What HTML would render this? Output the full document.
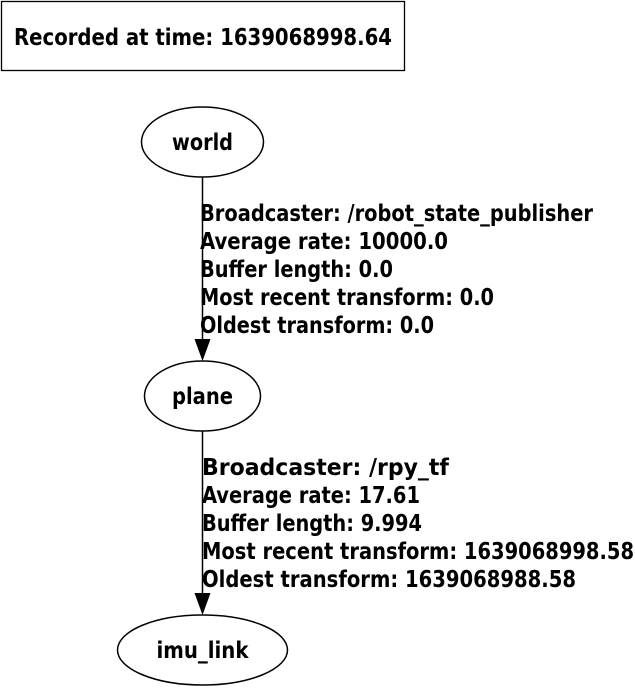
<!DOCTYPE html>
<html><head><meta charset="utf-8"><style>
html,body{margin:0;padding:0;background:#fff;}
svg text{font-family:"DejaVu Sans Condensed","DejaVu Sans","Liberation Sans",sans-serif;font-weight:bold;font-size:23px;fill:#000;}
</style></head><body>
<svg width="635" height="686" viewBox="0 0 635 686" xmlns="http://www.w3.org/2000/svg">
<g>
<rect x="1.5" y="1.5" width="403" height="69" fill="#fff" stroke="#000" stroke-width="1.3"/>
<text x="203" y="45" text-anchor="middle" textLength="378" lengthAdjust="spacingAndGlyphs">Recorded at time: 1639068998.64</text>
</g>
<g>
<line x1="202.5" y1="177" x2="202.5" y2="340" stroke="#000" stroke-width="1.5"/>
<polygon points="194.5,339 210.5,339 202.5,361" fill="#000"/>
<g>
<text x="200" y="221" textLength="393" lengthAdjust="spacingAndGlyphs">Broadcaster: /robot_state_publisher</text>
<text x="200" y="249" textLength="248" lengthAdjust="spacingAndGlyphs">Average rate: 10000.0</text>
<text x="200" y="277" textLength="193" lengthAdjust="spacingAndGlyphs">Buffer length: 0.0</text>
<text x="200" y="305" textLength="294" lengthAdjust="spacingAndGlyphs">Most recent transform: 0.0</text>
<text x="200" y="333" textLength="234" lengthAdjust="spacingAndGlyphs">Oldest transform: 0.0</text>
</g>
</g>
<g>
<line x1="202.5" y1="431" x2="202.5" y2="594" stroke="#000" stroke-width="1.5"/>
<polygon points="194.5,593 210.5,593 202.5,615" fill="#000"/>
<g>
<text x="202" y="475" textLength="247" lengthAdjust="spacingAndGlyphs">Broadcaster: /rpy_tf</text>
<text x="202" y="503" textLength="218" lengthAdjust="spacingAndGlyphs">Average rate: 17.61</text>
<text x="202" y="531" textLength="220" lengthAdjust="spacingAndGlyphs">Buffer length: 9.994</text>
<text x="202" y="559" textLength="432" lengthAdjust="spacingAndGlyphs">Most recent transform: 1639068998.58</text>
<text x="202" y="587" textLength="374" lengthAdjust="spacingAndGlyphs">Oldest transform: 1639068988.58</text>
</g>
</g>
<g>
<ellipse cx="202.5" cy="142" rx="61" ry="35" fill="#fff" stroke="#000" stroke-width="1.5"/>
<text x="202.5" y="150" text-anchor="middle" textLength="61" lengthAdjust="spacingAndGlyphs">world</text>
</g>
<g>
<ellipse cx="202.5" cy="396" rx="58" ry="35" fill="#fff" stroke="#000" stroke-width="1.5"/>
<text x="202.5" y="404" text-anchor="middle" textLength="61" lengthAdjust="spacingAndGlyphs">plane</text>
</g>
<g>
<ellipse cx="202.5" cy="650" rx="85" ry="35" fill="#fff" stroke="#000" stroke-width="1.5"/>
<text x="202.5" y="658" text-anchor="middle" textLength="92" lengthAdjust="spacingAndGlyphs">imu_link</text>
</g>
</svg>
</body></html>
